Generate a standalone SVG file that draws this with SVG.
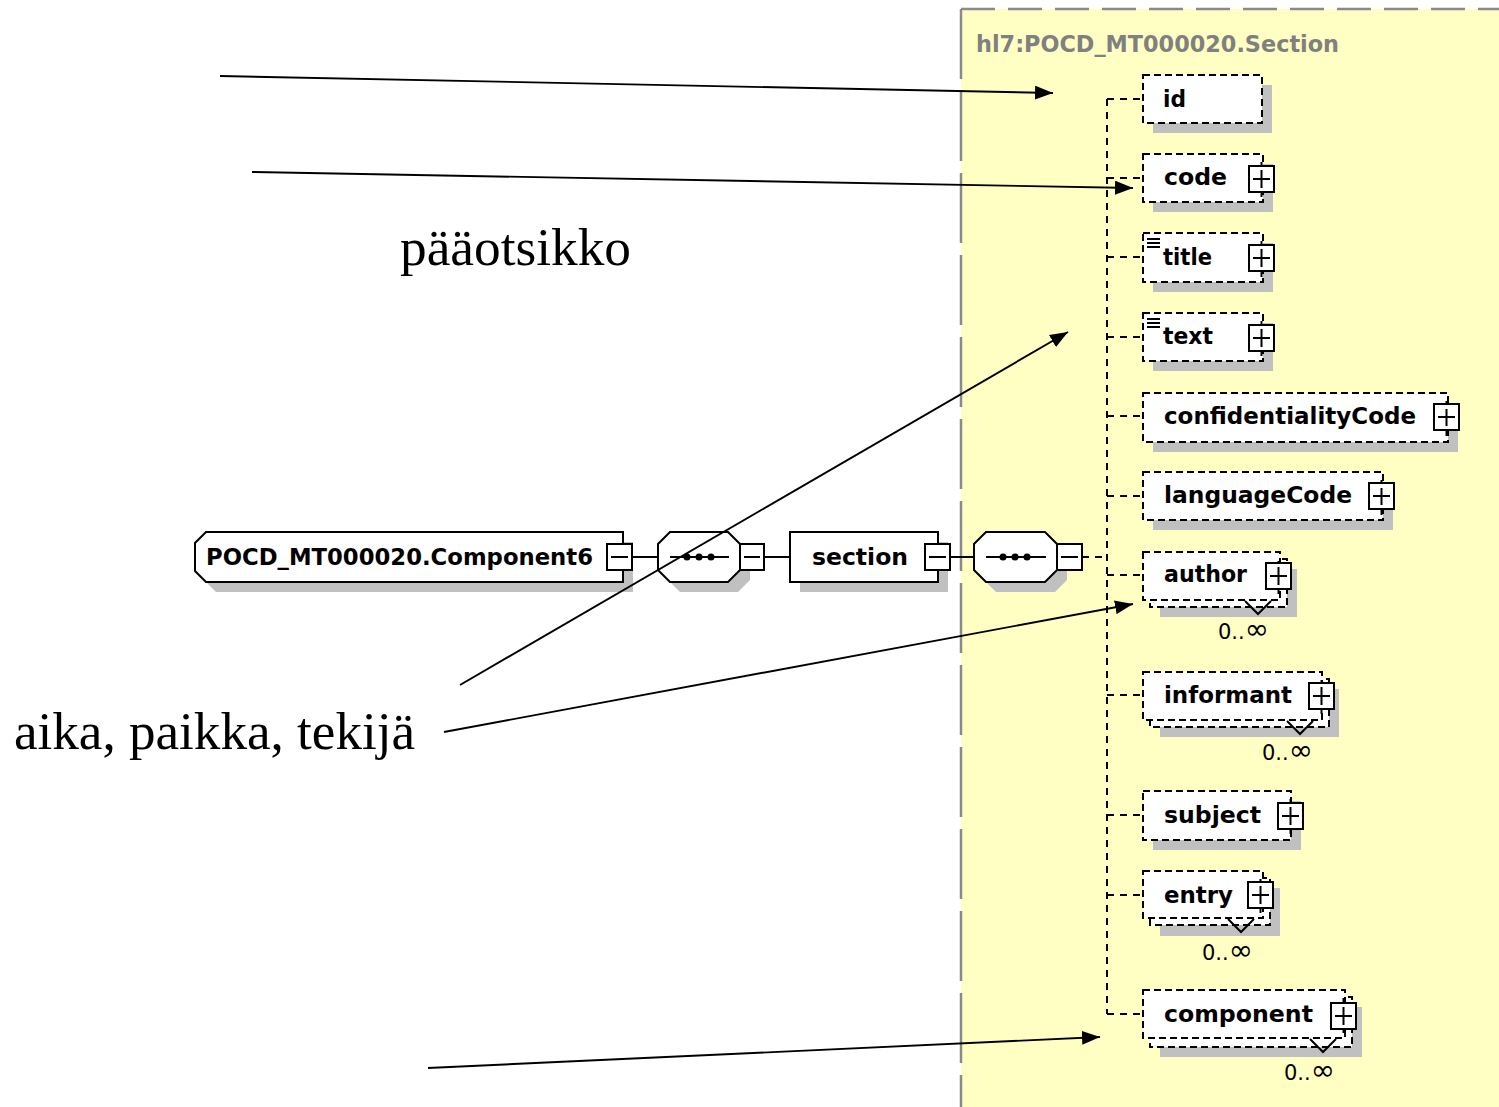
<svg xmlns="http://www.w3.org/2000/svg" width="1499" height="1107" viewBox="0 0 1499 1107">
  <style>
    .shadow { fill: #c0c0c0; stroke: none; }
    .solid { fill: #ffffff; stroke: #000; stroke-width: 2; }
    .opt { fill: #ffffff; stroke: #000; stroke-width: 2; stroke-dasharray: 7 4; }
    .btn { fill: #ffffff; stroke: #000; stroke-width: 2; }
    .sign { fill: none; stroke: #000; stroke-width: 2; }
    .wire { fill: none; stroke: #000; stroke-width: 2; }
    .dwire { fill: none; stroke: #000; stroke-width: 2; stroke-dasharray: 7 6; }
    .el { font-family: "DejaVu Sans", Verdana, sans-serif; font-weight: bold; font-size: 23px; fill: #000; }
    .occ { font-family: "DejaVu Sans", Verdana, sans-serif; font-size: 21px; fill: #000; }
    .inf { font-size: 29px; }
    .ttl { font-family: "DejaVu Sans", Verdana, sans-serif; font-weight: bold; font-size: 23px; fill: #808080; }
    .note { font-family: "Liberation Serif", "Times New Roman", serif; font-size: 52px; fill: #000; }
    .arrow { fill: none; stroke: #000; stroke-width: 1.9; marker-end: url(#head); }
  </style>
  <defs>
    <marker id="head" markerUnits="userSpaceOnUse" markerWidth="20" markerHeight="14" refX="18" refY="7" orient="auto">
      <path d="M0,0 L18,7 L0,14 z" fill="#000"/>
    </marker>
  </defs>

  <rect width="1499" height="1107" fill="#ffffff"/>

  <!-- complex type area -->
  <g id="section-type">
    <rect x="961" y="9" width="538" height="1098" fill="#ffffc4"/>
    <line x1="961" y1="9" x2="1499" y2="9" stroke="#8a8a8a" stroke-width="2.5" stroke-dasharray="34 13"/>
    <line x1="961" y1="9" x2="961" y2="1107" stroke="#8a8a8a" stroke-width="2.5" stroke-dasharray="70 12"/>
    <text class="ttl" x="976" y="52" textLength="363" lengthAdjust="spacingAndGlyphs">hl7:POCD_MT000020.Section</text>
  </g>

  <!-- wiring of the content model -->
  <g id="connectors">
    <line class="wire" x1="632" y1="557" x2="658" y2="557"/>
    <line class="wire" x1="764" y1="557" x2="790" y2="557"/>
    <line class="wire" x1="950" y1="557" x2="974" y2="557"/>
    <line class="dwire" x1="1082" y1="557" x2="1107" y2="557"/>
    <line class="dwire" x1="1107" y1="99" x2="1107" y2="1014"/>
    <path class="dwire" d="M1107 99H1143M1107 178H1143M1107 257H1143M1107 337H1143M1107 416H1143M1107 496H1143M1107 575H1143M1107 695H1143M1107 815H1143M1107 895H1143M1107 1014H1143"/>
  </g>

  <!-- main row -->
  <g id="n-component6">
    <polygon class="shadow" points="216,542 633,542 633,592 216,592 205,581 205,553"/>
    <polygon class="solid" points="206,532 623,532 623,582 206,582 195,571 195,543"/>
    <text class="el" x="206" y="565" font-size="22" textLength="387" lengthAdjust="spacingAndGlyphs">POCD_MT000020.Component6</text>
    <rect class="btn" x="607" y="544" width="25" height="26"/>
    <path class="sign" d="M611 557H628"/>
  </g>

  <g id="n-seq1">
    <polygon class="shadow" points="680,542 738,542 750,554 750,580 738,592 680,592 668,580 668,554"/>
    <polygon class="solid" points="670,532 728,532 740,544 740,570 728,582 670,582 658,570 658,544"/>
    <line class="wire" x1="670" y1="557" x2="729" y2="557"/>
    <circle cx="687" cy="557" r="3.5"/><circle cx="699" cy="557" r="3.5"/><circle cx="711" cy="557" r="3.5"/>
    <rect class="btn" x="740" y="544" width="24" height="26"/>
    <path class="sign" d="M744 557H760"/>
  </g>

  <g id="n-section">
    <rect class="shadow" x="800" y="542" width="148" height="50"/>
    <rect class="solid" x="790" y="532" width="148" height="50"/>
    <text class="el" x="812" y="565" textLength="96" lengthAdjust="spacingAndGlyphs">section</text>
    <rect class="btn" x="925" y="544" width="25" height="26"/>
    <path class="sign" d="M929 557H946"/>
  </g>

  <g id="n-seq2">
    <polygon class="shadow" points="996,542 1055,542 1067,554 1067,580 1055,592 996,592 984,580 984,554"/>
    <polygon class="solid" points="986,532 1045,532 1057,544 1057,570 1045,582 986,582 974,570 974,544"/>
    <line class="wire" x1="986" y1="557" x2="1046" y2="557"/>
    <circle cx="1003" cy="557" r="3.5"/><circle cx="1015" cy="557" r="3.5"/><circle cx="1027" cy="557" r="3.5"/>
    <rect class="btn" x="1057" y="544" width="25" height="26"/>
    <path class="sign" d="M1061 557H1078"/>
  </g>

  <!-- child elements -->
  <g id="n-id">
    <rect class="shadow" x="1153" y="85" width="119" height="48"/>
    <rect class="opt" x="1143" y="75" width="119" height="48"/>
    <text class="el" x="1163" y="107" textLength="23" lengthAdjust="spacingAndGlyphs">id</text>
  </g>

  <g id="n-code">
    <rect class="shadow" x="1153" y="164" width="120" height="48"/>
    <rect class="opt" x="1143" y="154" width="120" height="48"/>
    <text class="el" x="1164" y="185" textLength="63" lengthAdjust="spacingAndGlyphs">code</text>
    <line class="sign" x1="1261.5" y1="162" x2="1261.5" y2="197"/>
    <rect class="btn" x="1249" y="166" width="25" height="26"/>
    <path class="sign" d="M1253 179H1270M1261.5 170V188"/>
  </g>

  <g id="n-title">
    <rect class="shadow" x="1153" y="243" width="120" height="49"/>
    <rect class="opt" x="1143" y="233" width="120" height="49"/>
    <path class="sign" d="M1147 239H1160M1147 243H1160M1147 247H1160" stroke-width="1.6"/>
    <text class="el" x="1163" y="265" textLength="49" lengthAdjust="spacingAndGlyphs">title</text>
    <line class="sign" x1="1261.5" y1="241" x2="1261.5" y2="277"/>
    <rect class="btn" x="1249" y="245" width="25" height="26"/>
    <path class="sign" d="M1253 258H1270M1261.5 249V267"/>
  </g>

  <g id="n-text">
    <rect class="shadow" x="1153" y="323" width="120" height="48"/>
    <rect class="opt" x="1143" y="313" width="120" height="48"/>
    <path class="sign" d="M1147 319H1160M1147 323H1160M1147 327H1160" stroke-width="1.6"/>
    <text class="el" x="1163" y="344" textLength="50" lengthAdjust="spacingAndGlyphs">text</text>
    <line class="sign" x1="1261.5" y1="321" x2="1261.5" y2="356"/>
    <rect class="btn" x="1249" y="325" width="25" height="26"/>
    <path class="sign" d="M1253 338H1270M1261.5 329V347"/>
  </g>

  <g id="n-confidentialityCode">
    <rect class="shadow" x="1153" y="403" width="305" height="49"/>
    <rect class="opt" x="1143" y="393" width="305" height="49"/>
    <text class="el" x="1164" y="424" textLength="252" lengthAdjust="spacingAndGlyphs">confidentialityCode</text>
    <line class="sign" x1="1446.5" y1="401" x2="1446.5" y2="436"/>
    <rect class="btn" x="1434" y="404" width="25" height="26"/>
    <path class="sign" d="M1438 417H1455M1446.5 409V426"/>
  </g>

  <g id="n-languageCode">
    <rect class="shadow" x="1153" y="482" width="240" height="48"/>
    <rect class="opt" x="1143" y="472" width="240" height="48"/>
    <text class="el" x="1164" y="503" textLength="188" lengthAdjust="spacingAndGlyphs">languageCode</text>
    <line class="sign" x1="1381.5" y1="480" x2="1381.5" y2="515"/>
    <rect class="btn" x="1369" y="483" width="25" height="26"/>
    <path class="sign" d="M1373 496H1390M1381.5 488V505"/>
  </g>

  <g id="n-author">
    <rect class="shadow" x="1160" y="569" width="137" height="48"/>
    <rect class="opt" x="1150" y="559" width="137" height="48"/>
    <rect class="opt" x="1143" y="552" width="137" height="48"/>
    <polyline class="sign" stroke-width="1.5" points="1245,601 1258,614 1271,601"/>
    <text class="el" x="1164" y="582" textLength="83" lengthAdjust="spacingAndGlyphs">author</text>
    <line class="sign" x1="1278.5" y1="561" x2="1278.5" y2="594"/>
    <rect class="btn" x="1266" y="563" width="25" height="26"/>
    <path class="sign" d="M1270 576H1287M1278.5 567V585"/>
    <text class="occ" x="1218" y="639">0..<tspan class="inf">∞</tspan></text>
  </g>

  <g id="n-informant">
    <rect class="shadow" x="1160" y="689" width="179" height="48"/>
    <rect class="opt" x="1150" y="679" width="179" height="48"/>
    <rect class="opt" x="1143" y="672" width="179" height="48"/>
    <polyline class="sign" stroke-width="1.5" points="1287,721 1300,734 1313,721"/>
    <text class="el" x="1164" y="703" textLength="128" lengthAdjust="spacingAndGlyphs">informant</text>
    <line class="sign" x1="1321.5" y1="680" x2="1321.5" y2="714"/>
    <rect class="btn" x="1309" y="683" width="25" height="26"/>
    <path class="sign" d="M1313 696H1330M1321.5 687V705"/>
    <text class="occ" x="1262" y="760">0..<tspan class="inf">∞</tspan></text>
  </g>

  <g id="n-subject">
    <rect class="shadow" x="1153" y="801" width="148" height="49"/>
    <rect class="opt" x="1143" y="791" width="148" height="49"/>
    <text class="el" x="1164" y="823" textLength="97" lengthAdjust="spacingAndGlyphs">subject</text>
    <line class="sign" x1="1290.5" y1="799" x2="1290.5" y2="834"/>
    <rect class="btn" x="1278" y="803" width="25" height="26"/>
    <path class="sign" d="M1282 816H1299M1290.5 807V825"/>
  </g>

  <g id="n-entry">
    <rect class="shadow" x="1160" y="888" width="120" height="48"/>
    <rect class="opt" x="1150" y="878" width="120" height="47"/>
    <rect class="opt" x="1143" y="871" width="120" height="47"/>
    <polyline class="sign" stroke-width="1.5" points="1228,919 1241,932 1254,919"/>
    <text class="el" x="1164" y="903" textLength="69" lengthAdjust="spacingAndGlyphs">entry</text>
    <line class="sign" x1="1260.5" y1="879" x2="1260.5" y2="913"/>
    <rect class="btn" x="1248" y="882" width="25" height="26"/>
    <path class="sign" d="M1252 895H1269M1260.5 886V904"/>
    <text class="occ" x="1202" y="960">0..<tspan class="inf">∞</tspan></text>
  </g>

  <g id="n-component">
    <rect class="shadow" x="1160" y="1007" width="202" height="50"/>
    <rect class="opt" x="1150" y="997" width="202" height="50"/>
    <rect class="opt" x="1143" y="990" width="202" height="48"/>
    <polyline class="sign" stroke-width="1.5" points="1310,1039 1323,1052 1336,1039"/>
    <text class="el" x="1164" y="1022" textLength="149" lengthAdjust="spacingAndGlyphs">component</text>
    <line class="sign" x1="1343.5" y1="998" x2="1343.5" y2="1033"/>
    <rect class="btn" x="1331" y="1003" width="25" height="26"/>
    <path class="sign" d="M1335 1016H1352M1343.5 1007V1025"/>
    <text class="occ" x="1284" y="1080">0..<tspan class="inf">∞</tspan></text>
  </g>

  <!-- annotations -->
  <g id="notes">
    <text class="note" x="400" y="265" textLength="231" lengthAdjust="spacingAndGlyphs">pääotsikko</text>
    <text class="note" x="14" y="749" textLength="401" lengthAdjust="spacingAndGlyphs">aika, paikka, tekijä</text>
  </g>

  <g id="pointers">
    <line class="arrow" x1="220" y1="76" x2="1053" y2="93"/>
    <line class="arrow" x1="252" y1="172" x2="1133" y2="188"/>
    <line class="arrow" x1="460" y1="685" x2="1068" y2="332"/>
    <line class="arrow" x1="444" y1="732" x2="1133" y2="604"/>
    <line class="arrow" x1="428" y1="1068" x2="1100" y2="1037"/>
  </g>
</svg>
